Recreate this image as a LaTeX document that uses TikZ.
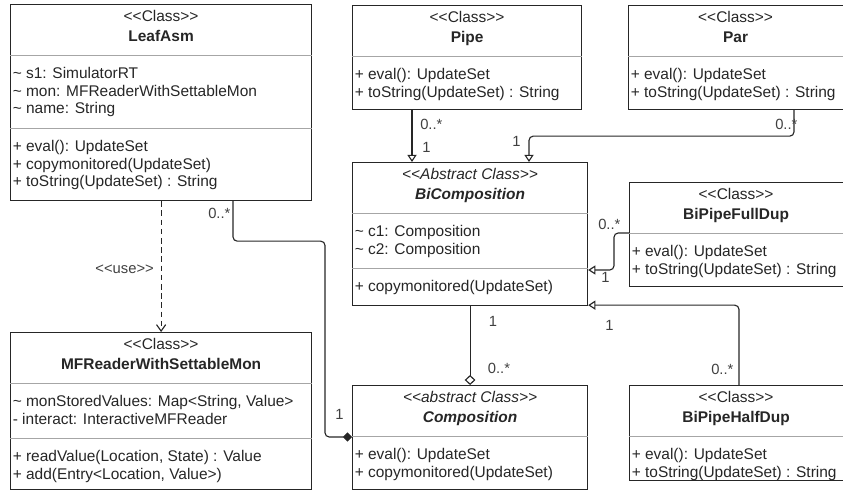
\documentclass[tikz,border=0pt]{standalone}
\usepackage{fontspec}
\setmainfont{Liberation Sans}
\usetikzlibrary{arrows.meta,calc}

% keeps << and >> as two separate signs
\newcommand{\stereo}[1]{<\kern0pt<#1>\kern0pt>}

\tikzset{
    classbox/.style={draw=black!85, line width=0.8pt, anchor=north west, inner sep=0pt},
    sepline/.style={draw=black!35, line width=0.6pt},
    stereotext/.style={anchor=base, inner sep=0pt, text=black!85, font=\fontsize{11}{12.4}\selectfont},
    nametext/.style={stereotext, font=\fontsize{11}{12.4}\selectfont\bfseries},
    membertext/.style={anchor=north west, align=left, inner sep=0pt, text=black!85, font=\fontsize{11}{12.4}\selectfont},
    mult/.style={anchor=base west, inner sep=0pt, text=black!75, font=\fontsize{10.5}{12}\selectfont},
    link/.style={draw=black!85, line width=0.8pt, rounded corners=3pt},
    inherit/.style={link, -{Triangle[open, length=1.8mm, width=2.3mm]}},
    aggreg/.style={link, -{Diamond[open, length=2.5mm, width=2.7mm]}},
    composit/.style={link, -{Diamond[length=2.3mm, width=2.3mm]}},
    uses/.style={link, dash pattern=on 1.4mm off 0.9mm, -{Straight Barb[length=1.6mm, width=2.3mm]}}
}

\begin{document}
\begin{tikzpicture}[x=0.025cm, y=-0.025cm]
    \path[use as bounding box, clip] (0,0) rectangle (843,491);

    % class boxes
    \node[classbox, minimum width=7.525cm, minimum height=4.9cm] (leaf) at (10,4) {};
    \node[classbox, minimum width=5.725cm, minimum height=2.6cm] (pipe) at (352,5) {};
    \node[classbox, minimum width=5.45cm, minimum height=2.6cm] (par) at (628,5) {};
    \node[classbox, minimum width=5.875cm, minimum height=3.575cm] (bicomp) at (352,162) {};
    \node[classbox, minimum width=5.425cm, minimum height=2.6cm] (fulldup) at (629,182) {};
    \node[classbox, minimum width=7.525cm, minimum height=3.925cm] (mfr) at (10,332) {};
    \node[classbox, minimum width=5.875cm, minimum height=2.6cm] (comp) at (352,385) {};
    \node[classbox, minimum width=5.425cm, minimum height=2.375cm] (halfdup) at (629,385) {};

    % compartments
    \foreach \n/\d in {leaf/51, leaf/124, pipe/51, par/51, bicomp/51, bicomp/106,
                       fulldup/51, mfr/51, mfr/106, comp/51, halfdup/51}
        \draw[sepline] ($(\n.north west)+(0,\d)$) -- ($(\n.north east)+(0,\d)$);

    % headers
    \node[stereotext] (leafst) at ($(leaf.north)+(0,18)$) {\stereo{Class}};
    \node[nametext] (leafname) at ($(leaf.north)+(0,38)$) {LeafAsm};
    \node[stereotext] (pipest) at ($(pipe.north)+(0,18)$) {\stereo{Class}};
    \node[nametext] (pipename) at ($(pipe.north)+(0,38)$) {Pipe};
    \node[stereotext] (parst) at ($(par.north)+(-2,18)$) {\stereo{Class}};
    \node[nametext] (parname) at ($(par.north)+(-2,38)$) {Par};
    \node[stereotext] (bicompst) at ($(bicomp.north)+(0,18)$) {\textit{\stereo{Abstract Class}}};
    \node[nametext] (bicompname) at ($(bicomp.north)+(0,38)$) {\textit{BiComposition}};
    \node[stereotext] (fulldupst) at ($(fulldup.north)+(-2,18)$) {\stereo{Class}};
    \node[nametext] (fulldupname) at ($(fulldup.north)+(-2,38)$) {BiPipeFullDup};
    \node[stereotext] (mfrst) at ($(mfr.north)+(0,18)$) {\stereo{Class}};
    \node[nametext] (mfrname) at ($(mfr.north)+(0,38)$) {MFReaderWithSettableMon};
    \node[stereotext] (compst) at ($(comp.north)+(0,18)$) {\textit{\stereo{abstract Class}}};
    \node[nametext] (compname) at ($(comp.north)+(0,38)$) {\textit{Composition}};
    \node[stereotext] (halfdupst) at ($(halfdup.north)+(-2,18)$) {\stereo{Class}};
    \node[nametext] (halfdupname) at ($(halfdup.north)+(-2,38)$) {BiPipeHalfDup};

    % members
    \node[membertext] (leafattr) at ($(leaf.north west)+(2.5,62.5)$)
        {\strut\textasciitilde{} s1: SimulatorRT\\ \strut\textasciitilde{} mon: MFReaderWithSettableMon\\ \strut\textasciitilde{} name: String};
    \node[membertext] (leafops) at ($(leaf.north west)+(2.5,135.5)$)
        {\strut+ eval(): UpdateSet\\ \strut+ copymonitored(UpdateSet)\\ \strut+ toString(UpdateSet) : String};
    \node[membertext] (pipeops) at ($(pipe.north west)+(2.5,62.5)$)
        {\strut+ eval(): UpdateSet\\ \strut+ toString(UpdateSet) : String};
    \node[membertext] (parops) at ($(par.north west)+(2.5,62.5)$)
        {\strut+ eval(): UpdateSet\\ \strut+ toString(UpdateSet) : String};
    \node[membertext] (bicompattr) at ($(bicomp.north west)+(2.5,62.5)$)
        {\strut\textasciitilde{} c1: Composition\\ \strut\textasciitilde{} c2: Composition};
    \node[membertext] (bicompops) at ($(bicomp.north west)+(2.5,117.5)$)
        {\strut+ copymonitored(UpdateSet)};
    \node[membertext] (fulldupops) at ($(fulldup.north west)+(2.5,62.5)$)
        {\strut+ eval(): UpdateSet\\ \strut+ toString(UpdateSet) : String};
    \node[membertext] (mfrattr) at ($(mfr.north west)+(2.5,62.5)$)
        {\strut\textasciitilde{} monStoredValues: Map<String, Value>\\ \strut- interact: InteractiveMFReader};
    \node[membertext] (mfrops) at ($(mfr.north west)+(2.5,117.5)$)
        {\strut+ readValue(Location, State) : Value\\ \strut+ add(Entry<Location, Value>)};
    \node[membertext] (compops) at ($(comp.north west)+(2.5,62.5)$)
        {\strut+ eval(): UpdateSet\\ \strut+ copymonitored(UpdateSet)};
    \node[membertext] (halfdupops) at ($(halfdup.north west)+(2.5,62.5)$)
        {\strut+ eval(): UpdateSet\\ \strut+ toString(UpdateSet) : String};

    % relations
    \draw[inherit] ($(pipe.south west)+(60,0)$) -- ($(bicomp.north west)+(60,0)$);
    \draw[inherit] ($(par.south west)+(166,0)$) -- ++(0,26) -| ($(bicomp.north west)+(177,0)$);
    \draw[inherit] ($(fulldup.north west)+(0,51)$) -- ++(-15,0) |- ($(bicomp.north east)+(0,108)$);
    \draw[inherit] ($(halfdup.north west)+(110,0)$) |- ($(bicomp.south east)+(0,-1)$);
    \draw[aggreg] (bicomp.south) -- (comp.north);
    \draw[composit] ($(leaf.south west)+(223,0)$) -- ++(0,40) -- ++(92,0) |- ($(comp.north west)+(0,52)$);
    \draw[uses] (leaf.south) -- (mfr.north);

    % multiplicities
    \node[mult] (pipemany) at ($(pipe.south west)+(68,19)$) {0..*};
    \node[mult] (pipeone) at ($(bicomp.north west)+(70,-9)$) {1};
    \node[mult] (parmany) at ($(par.south west)+(147,19)$) {0..*};
    \node[mult] (parone) at ($(bicomp.north west)+(160,-15)$) {1};
    \node[mult] (fulldupmany) at ($(fulldup.north west)+(-31,48)$) {0..*};
    \node[mult] (fulldupone) at ($(bicomp.north east)+(13,121)$) {1};
    \node[mult] (halfdupmany) at ($(halfdup.north west)+(82,-10)$) {0..*};
    \node[mult] (halfdupone) at ($(bicomp.south east)+(17,24)$) {1};
    \node[mult] (aggone) at ($(bicomp.south)+(18.5,20)$) {1};
    \node[mult] (aggmany) at ($(comp.north)+(17.5,-11)$) {0..*};
    \node[mult] (leafmany) at ($(leaf.south west)+(198,17)$) {0..*};
    \node[mult] (leafone) at ($(comp.north west)+(-17,35)$) {1};
    \node[mult, anchor=base] (uselabel) at ($(leaf.south)+(-36.5,72)$) {\stereo{use}};
\end{tikzpicture}
\end{document}
